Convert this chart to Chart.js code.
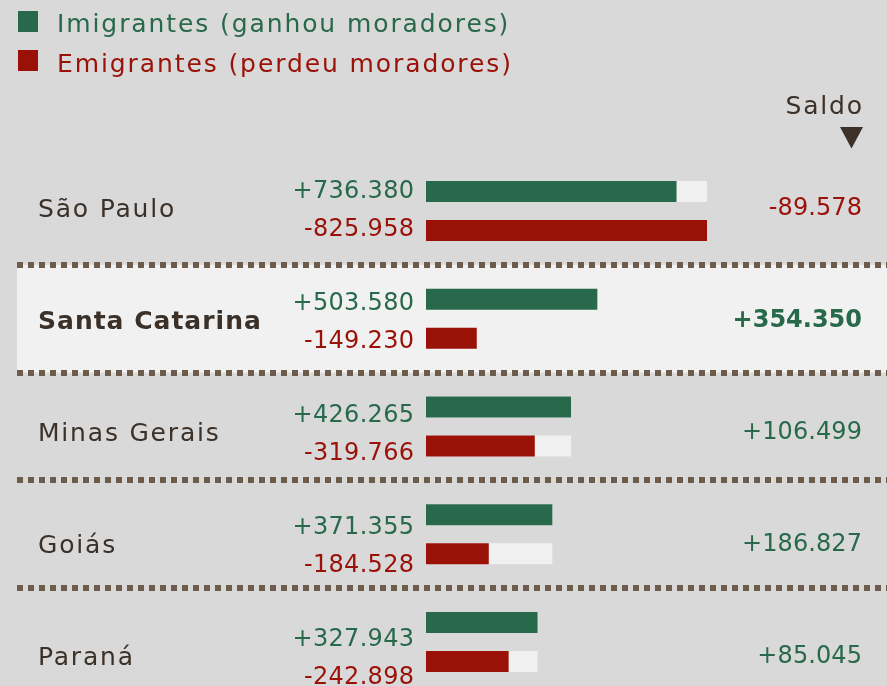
<!DOCTYPE html>
<html>
<head>
<meta charset="utf-8">
<script src="https://cdn.jsdelivr.net/npm/chart.js@4"></script>
<style>
  html, body { margin: 0; padding: 0; background: #d9d9d9; overflow: hidden; }
  #wrap { width: 887px; height: 700px; }
</style>
</head>
<body>
<div id="wrap"><canvas id="fluxoChart" width="887" height="700"></canvas></div>
<script>
// dados
const estados = ["São Paulo", "Santa Catarina", "Minas Gerais", "Goiás", "Paraná"];
const imigrantes = [736380, 503580, 426265, 371355, 327943];
const emigrantes = [825958, 149230, 319766, 184528, 242898];
const destaque = "Santa Catarina";
const rotuloImig = "Imigrantes (ganhou moradores)";
const rotuloEmig = "Emigrantes (perdeu moradores)";
const rotuloSaldo = "Saldo";

const saldo = imigrantes.map((v, i) => v - emigrantes[i]);
const maiorDoPar = imigrantes.map((v, i) => Math.max(v, emigrantes[i]));

const VERDE = "#28694c";
const VERMELHO = "#9a1108";
const FUNDO = "#f0f0f0";
const TEXTO = "#3b3128";
const PONTILHADO = "#6d5c4c";
const FONTE = '"DejaVu Sans", sans-serif';

function fmt(n, sinal) {
  const s = Math.abs(n).toString().replace(/\B(?=(\d{3})+(?!\d))/g, ".");
  if (!sinal) return s;
  return (n < 0 ? "-" : "+") + s;
}

// desenha texto centrado verticalmente pela altura das maiusculas
function texto(ctx, txt, x, yc, size, opts) {
  ctx.save();
  ctx.font = (opts.bold ? "bold " : "") + size + "px " + FONTE;
  ctx.letterSpacing = (opts.ls || 0) + "px";
  ctx.fillStyle = opts.color;
  ctx.textAlign = opts.align || "left";
  ctx.textBaseline = "alphabetic";
  let xx = x;
  // com letterSpacing o ultimo caractere deixa espaco a direita
  if (ctx.textAlign === "right") xx += (opts.ls || 0);
  ctx.fillText(txt, xx, yc + size * 0.364);
  ctx.restore();
}

const decoracao = {
  id: "decoracao",
  beforeDatasetsDraw(chart) {
    const ctx = chart.ctx;
    const y = chart.scales.y;
    const seps = [];
    for (let i = 1; i < estados.length; i++) {
      seps.push((y.getPixelForValue(i - 1) + y.getPixelForValue(i)) / 2);
    }
    const idx = estados.indexOf(destaque);
    const topo = idx > 0 ? seps[idx - 1] : y.top;
    const base = idx < seps.length ? seps[idx] : y.bottom;
    ctx.save();
    ctx.fillStyle = "#f1f1f1";
    ctx.fillRect(17, topo, chart.width - 17, base - topo);
    // separadores pontilhados
    ctx.fillStyle = PONTILHADO;
    seps.forEach(sy => {
      for (let x = 17; x < chart.width; x += 11) {
        ctx.fillRect(x, Math.round(sy) - 3, 6, 6);
      }
    });
    ctx.restore();
  },
  afterDraw(chart) {
    const ctx = chart.ctx;
    // legenda
    ctx.save();
    ctx.fillStyle = VERDE;
    ctx.fillRect(18, 11, 20, 21);
    ctx.fillStyle = VERMELHO;
    ctx.fillRect(18, 50, 20, 21);
    ctx.restore();
    texto(ctx, chart.data.datasets[0].label, 57, 22.5, 25, { color: VERDE, ls: 1.9 });
    texto(ctx, chart.data.datasets[1].label, 57, 63, 25, { color: VERMELHO, ls: 1.9 });

    // cabecalho saldo
    texto(ctx, rotuloSaldo, 862, 105, 25, { color: TEXTO, ls: 1.8, align: "right" });
    ctx.save();
    ctx.fillStyle = TEXTO;
    ctx.beginPath();
    ctx.moveTo(840, 127);
    ctx.lineTo(863, 127);
    ctx.lineTo(851.5, 148.5);
    ctx.closePath();
    ctx.fill();
    ctx.restore();

    // linhas de texto
    const TOPO = 208, PASSO = 112;
    estados.forEach((nome, i) => {
      const yc = TOPO + PASSO * i;
      const bold = nome === destaque;
      texto(ctx, nome, 38, yc, 25, { color: TEXTO, ls: bold ? 1 : 1.8, bold: bold });
      texto(ctx, fmt(imigrantes[i], true), 414, yc - 18.5, 24, { color: VERDE, ls: 0.3, align: "right" });
      texto(ctx, fmt(-emigrantes[i], true), 414, yc + 19, 24, { color: VERMELHO, ls: 0.3, align: "right" });
      texto(ctx, fmt(saldo[i], true), 862, yc - 2, 24, {
        color: saldo[i] < 0 ? VERMELHO : VERDE, ls: bold ? 0 : 0.1, align: "right", bold: bold
      });
    });
  }
};

const ctx = document.getElementById("fluxoChart").getContext("2d");
new Chart(ctx, {
  type: "bar",
  data: {
    labels: estados,
    datasets: [
      { label: rotuloImig, data: imigrantes, backgroundColor: VERDE, stack: "imig" },
      { label: rotuloEmig, data: emigrantes, backgroundColor: VERMELHO, stack: "emig" },
      { label: "fundo imig", data: maiorDoPar, backgroundColor: FUNDO, stack: "imig" },
      { label: "fundo emig", data: maiorDoPar, backgroundColor: FUNDO, stack: "emig" }
    ]
  },
  options: {
    indexAxis: "y",
    responsive: false,
    animation: false,
    layout: { padding: { left: 426, right: 180, top: 157, bottom: 4 } },
    datasets: { bar: { categoryPercentage: 0.724, barPercentage: 0.538, borderWidth: 0 } },
    scales: {
      x: { display: false, stacked: false, min: 0, max: Math.max(...maiorDoPar) },
      y: { display: false }
    },
    plugins: {
      legend: { display: false },
      tooltip: { enabled: false }
    }
  },
  plugins: [decoracao]
});
</script>
</body>
</html>
